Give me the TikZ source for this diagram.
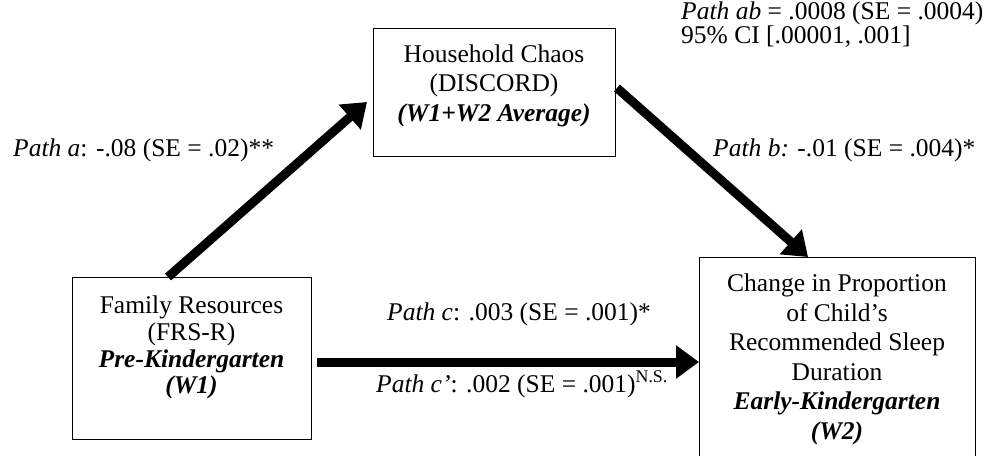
\documentclass[tikz,border=0pt]{standalone}
\usepackage{fontspec}
\setmainfont{Liberation Serif}
\usetikzlibrary{arrows.meta}
\newcommand\fs{\fontsize{25.5}{29.5}\selectfont}
\newcommand\bi[1]{\textbf{\textit{#1}}}
\begin{document}
\begin{tikzpicture}[x=1pt,y=-1pt,
  box/.style={draw, line width=1.3pt, inner sep=0pt, anchor=north west},
  ln/.style={anchor=base, inner sep=0pt, font=\fs},
  lab/.style={anchor=base west, inner sep=0pt, font=\fs},
  patharrow/.style={line width=9pt, -{Triangle[length=23pt,width=32pt]}}]
\useasboundingbox (0,0) rectangle (990,455);
\clip (0,0) rectangle (990,455);

% boxes
\node[box, minimum width=242pt, minimum height=128pt] (hc) at (373,28) {};
\node[box, minimum width=239pt, minimum height=162pt] (fr) at (72,277) {};
\node[box, minimum width=276pt, minimum height=230pt] (cp) at (699,257) {};

% mediator
\node[ln] (hc1) at (494,62) {Household Chaos};
\node[ln] (hc2) at (494,91.5) {(DISCORD)};
\node[ln] (hc3) at (494,121) {\bi{(W1+W2 Average)}};

% predictor
\node[ln] (fr1) at (191.5,313) {Family Resources};
\node[ln] (fr2) at (191.5,340) {(FRS-R)};
\node[ln] (fr3) at (191.5,367) {\bi{Pre-Kindergarten}};
\node[ln] (fr4) at (191.5,393) {\bi{(W1)}};

% outcome
\node[ln] (cp1) at (837,291) {Change in Proportion};
\node[ln] (cp2) at (837,321) {of Child’s};
\node[ln] (cp3) at (837,350) {Recommended Sleep};
\node[ln] (cp4) at (837,380) {Duration};
\node[ln] (cp5) at (837,409) {\bi{Early-Kindergarten}};
\node[ln] (cp6) at (837,439) {\bi{(W2)}};

% path labels
\node[lab] (pa) at (13,156) {\textit{Path a}: -.08 (SE = .02)**};
\node[lab] (pb) at (713,156) {\textit{Path b:} -.01 (SE = .004)*};
\node[lab] (pab) at (681,19) {\textit{Path ab} = .0008 (SE = .0004)};
\node[lab] (ci) at (681,43) {95\% CI [.00001, .001]};
\node[lab] (pc) at (387,320) {\textit{Path c}: .003 (SE = .001)*};
\node[lab] (pcp) at (376,392) {\textit{Path c’}: .002 (SE = .001)\textsuperscript{N.S.}};

% arrows
\coordinate (a0) at (168,277);
\coordinate (a1) at (367,102);
\coordinate (b0) at (617,88);
\coordinate (b1) at (808,257);
\coordinate (c0) at (317,362);
\coordinate (c1) at (699,362);
\draw[patharrow] (a0) -- (a1);
\draw[patharrow] (b0) -- (b1);
\draw[patharrow] (c0) -- (c1);
\end{tikzpicture}
\end{document}
